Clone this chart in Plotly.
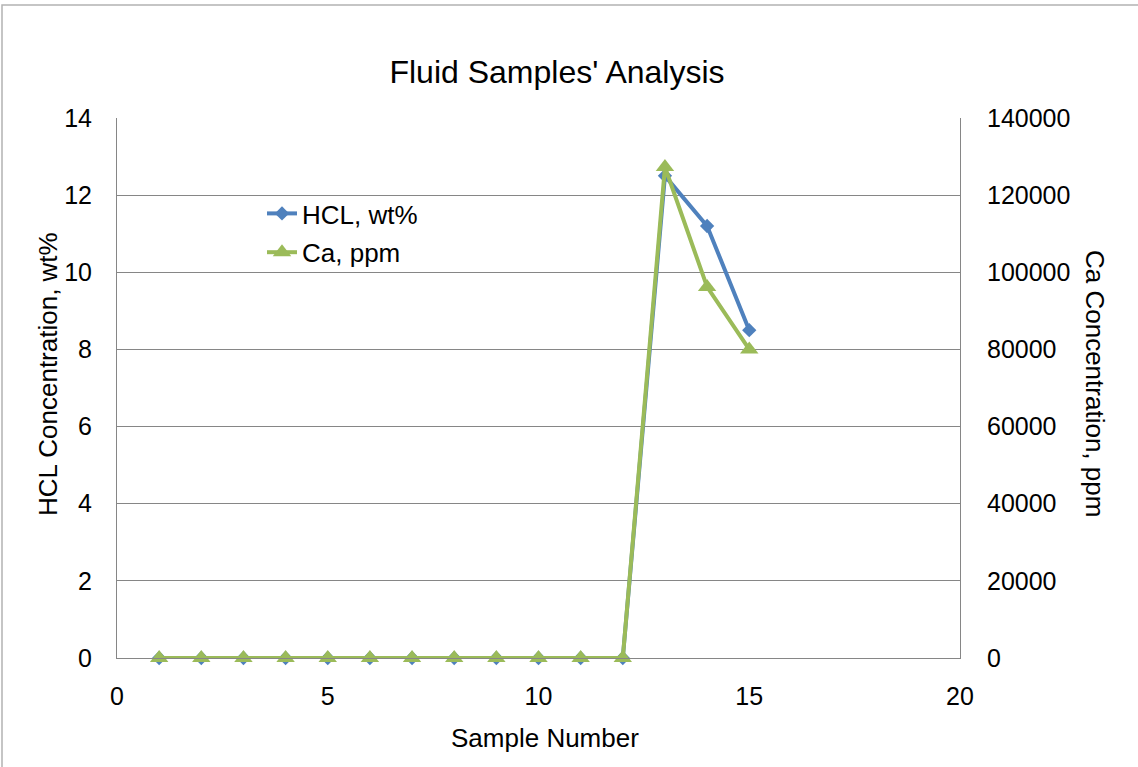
import plotly.graph_objects as go

samples = [1, 2, 3, 4, 5, 6, 7, 8, 9, 10, 11, 12, 13, 14, 15]
hcl_wt = [0, 0, 0, 0, 0, 0, 0, 0, 0, 0, 0, 0, 12.5, 11.2, 8.5]
ca_ppm = [0, 0, 0, 0, 0, 0, 0, 0, 0, 0, 0, 0, 127300, 96200, 80000]

BLUE = "#4F81BD"
GREEN = "#9BBB59"
FONT = "Liberation Sans, Arial, sans-serif"
L, R, T, B = 117, 960, 118, 658
PW, PH = R - L, B - T

fig = go.Figure()
fig.add_trace(go.Scatter(
    x=samples, y=hcl_wt, name="HCL, wt%", mode="lines+markers", legendgroup="a",
    line=dict(color=BLUE, width=4), cliponaxis=False,
    marker=dict(symbol="diamond", size=11, color=BLUE),
))
fig.add_trace(go.Scatter(
    x=samples, y=ca_ppm, name="Ca, ppm", mode="lines+markers", yaxis="y2", legendgroup="b",
    line=dict(color=GREEN, width=4), cliponaxis=False,
    marker=dict(symbol="triangle-up", size=16, color=GREEN),
))

axis_common = dict(
    showline=True, linecolor="#868686", linewidth=1,
    ticks="", tickfont=dict(size=25, color="black", family=FONT),
    zeroline=False,
)

fig.update_layout(
    width=1138, height=767,
    margin=dict(l=L, r=1138 - R, t=T, b=767 - B),
    paper_bgcolor="white", plot_bgcolor="white",
    font=dict(family=FONT, color="black"),
    title=dict(text="Fluid Samples' Analysis", x=557 / 1138, xanchor="center",
               y=1 - 72 / 767, yanchor="middle",
               font=dict(size=32, family=FONT, color="black")),
    xaxis=dict(range=[0, 20], dtick=5, showgrid=False, ticklabelstandoff=16, **axis_common),
    yaxis=dict(range=[0, 14], dtick=2, showgrid=True, gridcolor="#868686", gridwidth=1,
               ticklabelstandoff=19, **axis_common),
    yaxis2=dict(range=[0, 140000], dtick=20000, overlaying="y", side="right",
                showgrid=False, tickformat="d", ticklabelstandoff=21, **axis_common),
    legend=dict(x=(262 - L) / PW, y=(B - 190) / PH, xanchor="left", yanchor="top",
                bgcolor="rgba(0,0,0,0)", font=dict(size=26, family=FONT),
                tracegroupgap=2, itemwidth=30),
    showlegend=True,
)

fig.add_annotation(
    text="HCL Concentration, wt%", textangle=-90, showarrow=False,
    xref="paper", yref="paper", x=(48 - L) / PW, y=(B - 374) / PH,
    xanchor="center", yanchor="middle", font=dict(size=26, family=FONT, color="black"),
)
fig.add_annotation(
    text="Ca Concentration, ppm", textangle=90, showarrow=False,
    xref="paper", yref="paper", x=(1095 - L) / PW, y=(B - 383) / PH,
    xanchor="center", yanchor="middle", font=dict(size=26, family=FONT, color="black"),
)
fig.add_annotation(
    text="Sample Number", showarrow=False,
    xref="paper", yref="paper", x=(545 - L) / PW, y=(B - 738) / PH,
    xanchor="center", yanchor="middle", font=dict(size=26, family=FONT, color="black"),
)

# outer chart border
fig.add_shape(type="rect", xref="paper", yref="paper",
              x0=(2 - L) / PW, x1=(1145 - L) / PW,
              y0=(B - 775) / PH, y1=(B - 5) / PH,
              line=dict(color="#B3B3B3", width=1.5), layer="below")

fig.write_html("out.html")
